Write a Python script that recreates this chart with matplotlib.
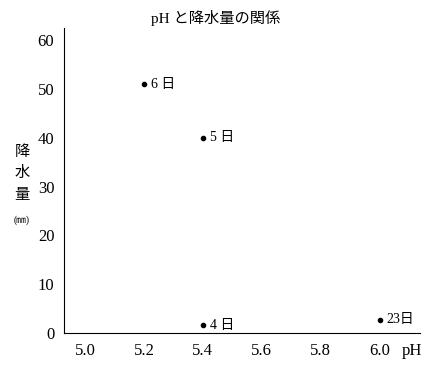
import matplotlib
matplotlib.use('Agg')
import matplotlib.pyplot as plt

# pH と降水量のデータ
ph = [5.2, 5.4, 5.4, 6.0]
rain = [51, 40, 1.6, 2.7]
days = ['6 日', '5 日', '4 日', '23日']

x_ticks = [5.0, 5.2, 5.4, 5.6, 5.8, 6.0]
y_ticks = [0, 10, 20, 30, 40, 50, 60]

fam = ['Liberation Serif', 'Noto Sans CJK JP']
plt.rcParams['font.family'] = fam

fig = plt.figure(figsize=(4.3, 3.65), dpi=100)
ax = fig.add_axes([64 / 430, 32 / 365, 356 / 430, 305 / 365])

ax.plot(ph, rain, 'o', color='black', markersize=3)
for x, y, d in zip(ph, rain, days):
    ax.annotate(d, (x, y), xytext=(5, 0), textcoords='offset points',
                va='center', ha='left', fontsize=10)

ax.set_xlim(4.929, 6.136)
ax.set_ylim(0, 62.5)
ax.set_xticks(x_ticks)
ax.set_xticklabels(['%.1f' % v for v in x_ticks])
ax.set_yticks(y_ticks)
ax.tick_params(length=0, labelsize=12)
ax.tick_params(axis='x', pad=7)
ax.tick_params(axis='y', pad=7)
for s in ['top', 'right']:
    ax.spines[s].set_visible(False)

# 最後の目盛りの右に単位
ax.annotate('pH', xy=(6.11, 0), xycoords=('data', 'axes fraction'),
            xytext=(0, -7), textcoords='offset points',
            ha='center', va='top', fontsize=12)

fig.text(216 / 430, 1 - 18 / 365, 'pH と降水量の関係', ha='center', va='center', fontsize=11)

# 縦書きの軸ラベル
for ch, ypx in zip(['降', '水', '量'], [152, 173, 195]):
    fig.text(22 / 430, 1 - ypx / 365, ch, ha='center', va='center', fontsize=11)
fig.text(22 / 430, 1 - 220 / 365, '(㎜)', ha='center', va='center', fontsize=7)

fig.savefig('out.png', dpi=100)
